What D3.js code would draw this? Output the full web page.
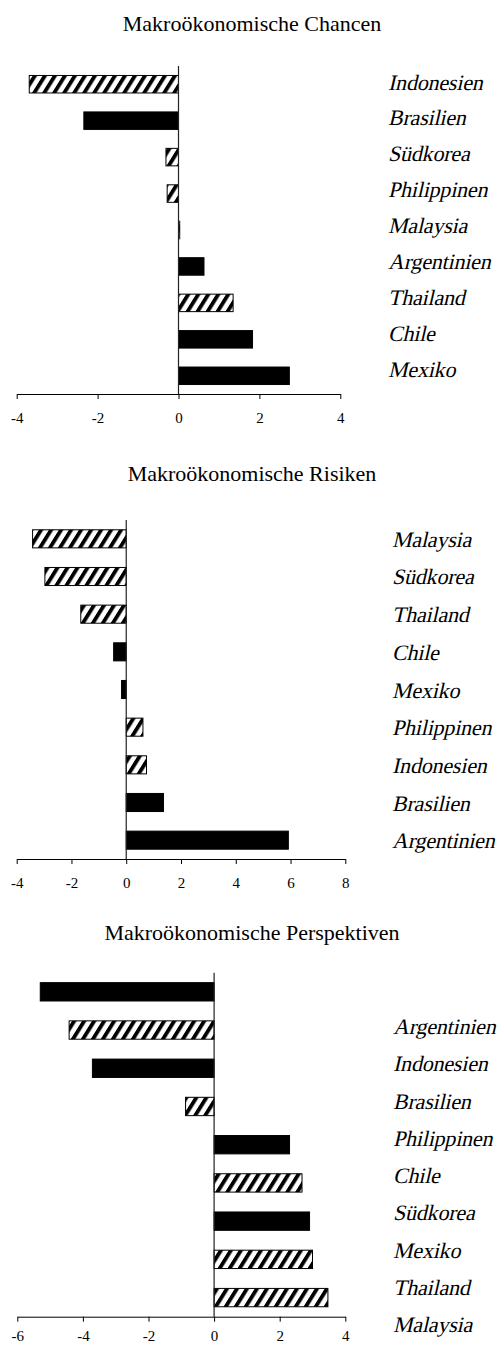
<!DOCTYPE html>
<html lang="de">
<head>
    <meta charset="UTF-8">
    <title>Makroökonomische Chancen, Risiken und Perspektiven</title>
    <script src="https://d3js.org/d3.v7.min.js"></script>
    <style>
        body { margin: 0; background: #fff; }
        text { font-family: "Liberation Serif", "Times New Roman", serif; fill: #000; }
    </style>
</head>
<body>
<svg id="chart"></svg>
<script>
    const width = 502;
    const height = 1346;

    // Daten
    var chancenLaender = ["Indonesien", "Brasilien", "Südkorea", "Philippinen", "Malaysia", "Argentinien", "Thailand", "Chile", "Mexiko"];
    var chancenWerte = [-3.69, -2.34, -0.31, -0.28, 0.03, 0.63, 1.35, 1.83, 2.74];
    var chancenTicks = [-4, -2, 0, 2, 4];

    var risikenLaender = ["Malaysia", "Südkorea", "Thailand", "Chile", "Mexiko", "Philippinen", "Indonesien", "Brasilien", "Argentinien"];
    var risikenWerte = [-3.42, -2.97, -1.66, -0.46, -0.17, 0.61, 0.74, 1.36, 5.92];
    var risikenTicks = [-4, -2, 0, 2, 4, 6, 8];

    var perspLaender = ["Argentinien", "Indonesien", "Brasilien", "Philippinen", "Chile", "Südkorea", "Mexiko", "Thailand", "Malaysia"];
    var perspWerte = [-5.30, -4.42, -3.71, -0.87, 2.30, 2.68, 2.91, 3.00, 3.47];
    var perspTicks = [-6, -4, -2, 0, 2, 4];

    // schraffiert dargestellt
    var asien = ["Indonesien", "Südkorea", "Philippinen", "Malaysia", "Thailand"];

    const svg = d3.select("#chart")
        .attr("width", width)
        .attr("height", height);

    const defs = svg.append("defs");
    const pattern = defs.append("pattern")
        .attr("id", "hatch")
        .attr("patternUnits", "userSpaceOnUse")
        .attr("width", 10)
        .attr("height", 10)
        .attr("patternTransform", "skewX(-32)");
    pattern.append("rect")
        .attr("width", 10).attr("height", 10).attr("fill", "#fff");
    pattern.append("rect")
        .attr("width", 4.5).attr("height", 10).attr("fill", "#000");

    function drawChart(cfg) {
        const x = d3.scaleLinear()
            .domain(d3.extent(cfg.ticks))
            .range([cfg.left, cfg.right]);

        const y = d3.scaleBand()
            .domain(cfg.laender)
            .range([cfg.top, cfg.axisY])
            .paddingInner(0.52)
            .paddingOuter(0.26);

        // Beschriftungen rechts
        const yLabel = d3.scalePoint()
            .domain(cfg.laender)
            .range([cfg.labelTop, cfg.labelBottom]);

        const g = svg.append("g");

        g.append("text")
            .attr("x", cfg.titleX)
            .attr("y", cfg.titleY)
            .attr("text-anchor", "middle")
            .attr("font-size", 22)
            .text(cfg.title);

        const data = cfg.laender.map((d, i) => ({land: d, wert: cfg.werte[i]}));

        g.append("g")
            .selectAll("rect")
            .data(data)
            .join("rect")
            .attr("x", d => x(Math.min(0, d.wert)))
            .attr("y", d => y(d.land))
            .attr("width", d => Math.abs(x(d.wert) - x(0)))
            .attr("height", y.bandwidth())
            .attr("fill", d => asien.includes(d.land) ? "url(#hatch)" : "#000")
            .attr("stroke", "#000")
            .attr("stroke-width", 1);

        // Nulllinie
        g.append("line")
            .attr("x1", x(0)).attr("x2", x(0))
            .attr("y1", cfg.top).attr("y2", cfg.axisY)
            .attr("stroke", "#222")
            .attr("stroke-width", 1.2);

        const axis = g.append("g")
            .attr("transform", `translate(0,${cfg.axisY})`)
            .call(d3.axisBottom(x)
                .tickValues(cfg.ticks)
                .tickFormat(d => String(d))
                .tickSize(5)
                .tickSizeOuter(0)
                .tickPadding(cfg.tickPad));
        axis.select(".domain").attr("stroke", "#000");
        axis.selectAll(".tick line").attr("stroke", "#000");
        axis.selectAll(".tick text")
            .attr("font-size", 15);

        // kursiv per Scherung, damit die Serifenschrift erhalten bleibt
        g.append("g")
            .selectAll("text")
            .data(cfg.laender)
            .join("text")
            .attr("transform", d => `translate(${cfg.labelX},${yLabel(d)}) skewX(-13)`)
            .attr("font-size", 22)
            .attr("letter-spacing", -0.2)
            .text(d => d);
    }

    drawChart({
        title: "Makroökonomische Chancen", titleX: 252, titleY: 31,
        laender: chancenLaender, werte: chancenWerte, ticks: chancenTicks,
        left: 16.7, right: 340.3, top: 66, axisY: 394, tickPad: 13,
        labelX: 388, labelTop: 89.5, labelBottom: 377
    });

    drawChart({
        title: "Makroökonomische Risiken", titleX: 252, titleY: 481,
        laender: risikenLaender, werte: risikenWerte, ticks: risikenTicks,
        left: 16.7, right: 345.3, top: 520, axisY: 859, tickPad: 13,
        labelX: 392, labelTop: 546.7, labelBottom: 848.3
    });

    drawChart({
        title: "Makroökonomische Perspektiven", titleX: 252, titleY: 940,
        laender: perspLaender, werte: perspWerte, ticks: perspTicks,
        left: 17.3, right: 345.3, top: 972.7, axisY: 1316.7, tickPad: 9,
        labelX: 393, labelTop: 1034, labelBottom: 1332
    });
</script>
</body>
</html>
